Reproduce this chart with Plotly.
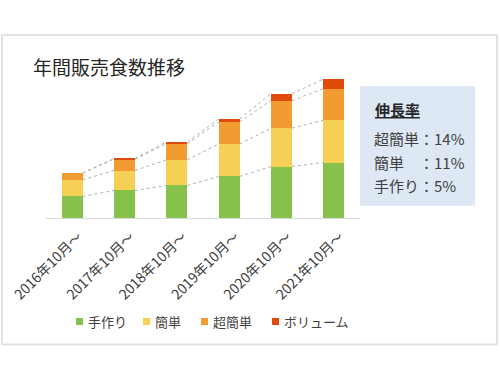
import plotly.graph_objects as go

# ---- data ----
categories = ["2016年10月～", "2017年10月～", "2018年10月～", "2019年10月～", "2020年10月～", "2021年10月～"]
tezukuri = [21.6, 27.6, 32.6, 41.6, 51.6, 55.6]
kantan = [16.7, 20.0, 25.7, 32.7, 38.4, 42.4]
chokantan = [6.7, 11.4, 16.0, 22.0, 27.6, 31.6]
volume = [0.0, 0.6, 2.0, 3.0, 7.0, 9.4]
series_names = ["手作り", "簡単", "超簡単", "ボリューム"]
series_colors = ["#86c14b", "#f6d055", "#f19b30", "#e04a0b"]
growth_title = "伸長率"
growth_lines = ["超簡単：14%", "簡単　：11%", "手作り：5%"]

# ---- geometry ----
W, H = 500, 375
L, R = 46, 360
T, B = 75, 218.3
bar_w = 0.4
ymax = B - T

def px(x):
    return (x - L) / (R - L)

def py(y):
    return (B - y) / (B - T)

FONT = "Noto Sans CJK JP"
xs = list(range(len(categories)))
series = [tezukuri, kantan, chokantan, volume]

fig = go.Figure()
for name, vals, col in zip(series_names, series, series_colors):
    fig.add_trace(go.Bar(x=xs, y=vals, name=name, marker=dict(color=col, line=dict(width=0)),
                         width=bar_w, hoverinfo="skip", showlegend=False))

# connector dotted lines between cumulative tops
cum = [0.0] * len(categories)
for vals in series:
    cum = [c + v for c, v in zip(cum, vals)]
    lx, ly = [], []
    for i in range(len(categories) - 1):
        lx += [i + bar_w / 2, i + 1 - bar_w / 2, None]
        ly += [cum[i], cum[i + 1], None]
    fig.add_trace(go.Scatter(x=lx, y=ly, mode="lines", showlegend=False, hoverinfo="skip",
                             line=dict(color="#b0b0b0", width=1, dash="dot")))

shapes = [
    # outer frame
    dict(type="rect", xref="paper", yref="paper", x0=px(2), x1=px(497), y0=py(345), y1=py(35),
         line=dict(color="#e3e3e3", width=2), fillcolor="rgba(0,0,0,0)", layer="below"),
    # growth box
    dict(type="rect", xref="paper", yref="paper", x0=px(360), x1=px(475), y0=py(206), y1=py(86),
         line=dict(width=0), fillcolor="#dde8f4", layer="below"),
]

annotations = [
    dict(text="<b><u>" + growth_title + "</u></b>", xref="paper", yref="paper", x=px(373), y=py(110),
         xanchor="left", yanchor="middle", showarrow=False, font=dict(family=FONT, size=15, color="#262626")),
]
for k, t in enumerate(growth_lines):
    annotations.append(dict(text=t, xref="paper", yref="paper", x=px(372), y=py(139 + 23.5 * k),
                            xanchor="left", yanchor="middle", showarrow=False,
                            font=dict(family=FONT, size=15, color="#404040")))

# custom legend (squares + labels)
legend_sq_x = [76, 143, 201, 272]
for name, col, sx in zip(series_names, series_colors, legend_sq_x):
    shapes.append(dict(type="rect", xref="paper", yref="paper", x0=px(sx), x1=px(sx + 7),
                       y0=py(325.5), y1=py(318.5), line=dict(width=0), fillcolor=col))
    annotations.append(dict(text=name, xref="paper", yref="paper", x=px(sx + 10), y=py(322),
                            xanchor="left", yanchor="middle", showarrow=False,
                            font=dict(family=FONT, size=13, color="#404040")))

fig.update_layout(
    width=W, height=H,
    margin=dict(l=L, r=W - R, t=T, b=H - B, autoexpand=False),
    paper_bgcolor="white", plot_bgcolor="white",
    barmode="stack", bargap=0,
    title=dict(text="年間販売食数推移", xref="container", yref="container", x=33 / W, y=1 - 68 / H,
               xanchor="left", yanchor="middle", font=dict(family=FONT, size=19, color="#262626")),
    xaxis=dict(range=[-0.5, len(categories) - 0.5], tickmode="array", tickvals=xs, ticktext=categories,
               tickangle=-45, tickfont=dict(family=FONT, size=14, color="#404040"),
               ticklabelshift=6, ticklabelstandoff=4,
               showline=True, linecolor="#d9d9d9", linewidth=1, showgrid=False, ticks="",
               zeroline=False, fixedrange=True, automargin=False),
    yaxis=dict(range=[0, ymax], visible=False, showgrid=False, zeroline=False, fixedrange=True,
               automargin=False),
    shapes=shapes, annotations=annotations,
    showlegend=False,
)

fig.write_html("out.html", config={"displayModeBar": False},
               post_script="document.body.style.margin='0';document.body.style.padding='0';")
